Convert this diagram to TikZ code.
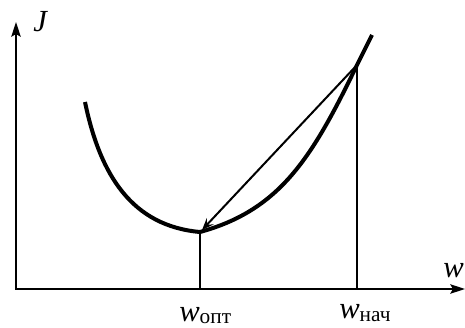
\documentclass[tikz,border=0pt]{standalone}
\usepackage{fontspec}
\setmainfont{Liberation Serif}
\usetikzlibrary{arrows.meta}
\begin{document}
\begin{tikzpicture}[x=0.75pt,y=-0.75pt,
  axis/.style={line width=1.8pt,-{Stealth[length=11pt,width=7pt,inset=2pt]}},
  curve/.style={line width=3pt,line join=round},
  drop/.style={line width=1.7pt},
  step arrow/.style={line width=1.5pt,-{Stealth[length=9pt,width=7pt,inset=3.5pt]}},
  lbl/.style={inner sep=0pt,font=\fontsize{23}{27}\selectfont}]
\useasboundingbox (0,0) rectangle (465,328);
\coordinate (O) at (16,289);
\coordinate (ytip) at (16,22);
\coordinate (xtip) at (465,289);
\coordinate (mn) at (200,232);
\coordinate (st) at (357,65);
\coordinate (mnfoot) at (200,289);
\coordinate (stfoot) at (357,289);
\draw[axis] (16,290) -- (ytip);
\draw[axis] (15,289) -- (xtip);
\draw[curve] (85,102) .. controls (100,175) and (132,226) .. (mn)
  .. controls (280,210) and (312,158) .. (st) -- (372,35);
\draw[drop] (mn) -- (mnfoot);
\draw[drop] (st) -- (stfoot);
\draw[step arrow] (st) -- (202,230);
\node[lbl,anchor=base west] (J) at (33,32) {\itshape J};
\node[lbl,anchor=base west] (wx) at (443,277) {\itshape w};
\node[lbl,anchor=base west] (wopt) at (179,321) {\itshape w\raisebox{-1.5pt}{\upshape\fontsize{16}{18}\selectfont опт}};
\node[lbl,anchor=base west] (wnach) at (339,319) {\itshape w\raisebox{-2pt}{\upshape\fontsize{16}{18}\selectfont нач}};
\end{tikzpicture}
\end{document}
